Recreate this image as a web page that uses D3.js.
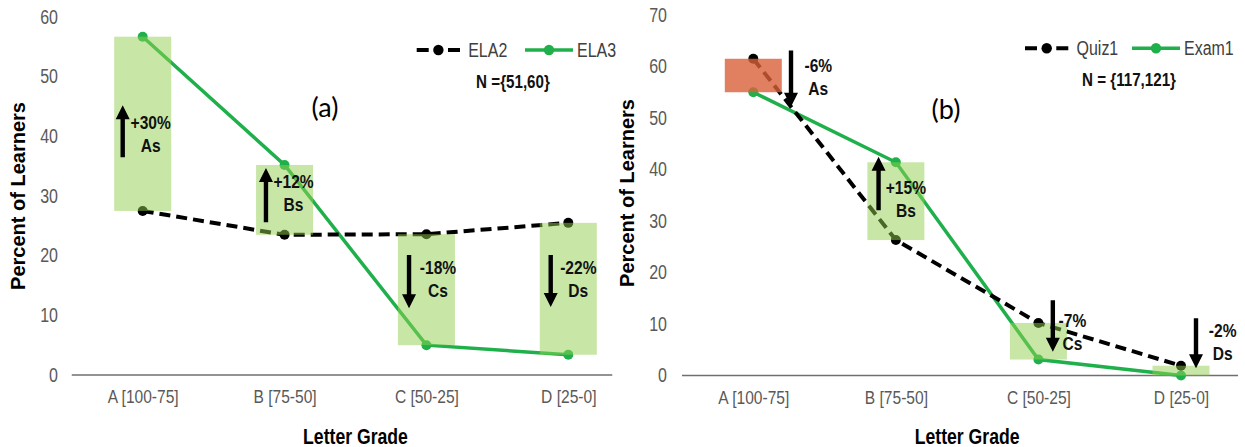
<!DOCTYPE html>
<html><head><meta charset="utf-8">
<script src="https://cdn.jsdelivr.net/npm/d3@7"></script>
<style>
html,body{margin:0;padding:0;background:#fff;}
svg{display:block;}
</style></head>
<body>
<svg id="chart" width="1245" height="447"></svg>
<script>
// ---------- data ----------
const categories = ["A [100-75]", "B [75-50]", "C [50-25]", "D [25-0]"];

// panel (a)
const seriesA1Name = "ELA2";
const seriesA1 = [27.5, 23.5, 23.6, 25.5];
const seriesA2Name = "ELA3";
const seriesA2 = [56.7, 35.2, 5.0, 3.4];
const yTicksA = [0, 10, 20, 30, 40, 50, 60];
const changesA = ["+30%", "+12%", "-18%", "-22%"];
const gradesA = ["As", "Bs", "Cs", "Ds"];
const nTextA = "N ={51,60}";
const panelLabelA = "(a)";

// panel (b)
const seriesB1Name = "Quiz1";
const seriesB1 = [61.5, 26.3, 10.2, 1.9];
const seriesB2Name = "Exam1";
const seriesB2 = [55.0, 41.4, 3.1, 0.0];
const yTicksB = [0, 10, 20, 30, 40, 50, 60, 70];
const changesB = ["-6%", "+15%", "-7%", "-2%"];
const gradesB = ["As", "Bs", "Cs", "Ds"];
const nTextB = "N = {117,121}";
const panelLabelB = "(b)";

// ---------- styles ----------
const FONT = "'Liberation Sans',Arial,sans-serif";
const NARROW_SCALE = 0.82;
const GREEN = "#1fb04b";
const BAND_UP = "#92d050";
const BAND_DOWN_RED = "#d9603a";

const svg = d3.select("#chart");

function narrowText(g, x, y, str, o) {
  const t = g.append("g").attr("transform", `translate(${x},${y}) scale(${NARROW_SCALE},1)`)
    .append("text").attr("x", 0).attr("y", 0)
    .attr("text-anchor", o.anchor || "middle").attr("dominant-baseline", "central")
    .attr("font-family", FONT).attr("font-size", o.size || 19)
    .attr("font-weight", o.weight || "normal").attr("fill", o.fill || "#000")
    .text(str);
  return t;
}

function arrowPath(x, y0, y1) {
  const dir = y1 < y0 ? -1 : 1;
  const hl = 14, hw = 7, sw = 2.2;
  const yb = y1 - dir * hl;
  return `M${x - sw},${y0} L${x + sw},${y0} L${x + sw},${yb} L${x + hw},${yb} L${x},${y1} L${x - hw},${yb} L${x - sw},${yb} Z`;
}

function panel(cfg) {
  const g = svg.append("g");
  const x = d3.scalePoint().domain(categories).range(cfg.xRange);
  const y = d3.scaleLinear().domain([0, cfg.yTicks[cfg.yTicks.length - 1]]).range(cfg.yRange);
  const step = x.step();

  // y axis labels
  const ya = d3.axisLeft(y).tickValues(cfg.yTicks).tickSize(0).tickPadding(0);
  const yg = g.append("g").attr("transform", `translate(${cfg.yLabelX},0)`).call(ya);
  yg.select(".domain").remove();
  yg.selectAll("text").attr("font-family", FONT).attr("font-size", 19.5).attr("fill", "#595959")
    .attr("transform", `scale(${NARROW_SCALE},1)`);

  // x axis
  const xa = d3.axisBottom(x).tickSize(0).tickPadding(15);
  const xg = g.append("g").attr("transform", `translate(0,${y(0)})`).call(xa);
  xg.select(".domain").remove();
  xg.selectAll("text").attr("font-family", FONT).attr("font-size", 19).attr("fill", "#595959")
    .attr("transform", `scale(${NARROW_SCALE},1)`);
  g.append("line")
    .attr("x1", x(categories[0]) - step / 2).attr("x2", x(categories[3]) + step * cfg.axisRightFrac)
    .attr("y1", y(0)).attr("y2", y(0))
    .attr("stroke", "#6f6f6f").attr("stroke-width", 1.6);

  // axis titles
  g.append("text").attr("transform", `translate(${cfg.yTitleX},${cfg.yTitleY}) rotate(-90)`)
    .attr("text-anchor", "middle").attr("dominant-baseline", "central")
    .attr("font-family", FONT).attr("font-weight", "bold").attr("font-size", 20).attr("fill", "#000")
    .text("Percent of Learners");
  narrowText(g, (x(categories[1]) + x(categories[2])) / 2, 436, "Letter Grade", {size: 21.5, weight: "bold"});

  // lines
  const line = (vals) => d3.line().x((d, i) => x(categories[i])).y(d => y(d))(vals);
  g.append("path").attr("d", line(cfg.s2)).attr("fill", "none").attr("stroke", GREEN).attr("stroke-width", 3.5);
  g.append("path").attr("d", line(cfg.s1)).attr("fill", "none").attr("stroke", "#000")
    .attr("stroke-width", 4).attr("stroke-dasharray", "11,6");
  g.selectAll(".m2").data(cfg.s2).enter().append("circle")
    .attr("cx", (d, i) => x(categories[i])).attr("cy", d => y(d)).attr("r", 5).attr("fill", GREEN);
  g.selectAll(".m1").data(cfg.s1).enter().append("circle")
    .attr("cx", (d, i) => x(categories[i])).attr("cy", d => y(d)).attr("r", 5).attr("fill", "#000");

  // change bands
  const bw = 57;
  categories.forEach((c, i) => {
    const a = cfg.s1[i], b = cfg.s2[i];
    const lo = Math.min(a, b), hi = Math.max(a, b);
    const red = cfg.redBand === i;
    g.append("rect").attr("x", x(c) - bw / 2).attr("width", bw)
      .attr("y", y(hi)).attr("height", y(lo) - y(hi))
      .attr("fill", red ? BAND_DOWN_RED : BAND_UP).attr("opacity", red ? 0.8 : 0.5);
  });

  // arrows + labels
  cfg.ann.forEach((an, i) => {
    const cx = x(categories[i]);
    g.append("path").attr("d", arrowPath(cx + an.ax, y(an.from), y(an.to))).attr("fill", "#000");
    narrowText(g, cx + an.tx, y(an.ty), cfg.changes[i], {size: 19, weight: "bold", fill: "#111"});
    narrowText(g, cx + an.tx, y(an.ty) + 23, cfg.grades[i], {size: 19, weight: "bold", fill: "#111"});
  });

  // legend
  const L = cfg.legend;
  g.append("line").attr("x1", L.x).attr("x2", L.x + 43.3).attr("y1", L.y).attr("y2", L.y)
    .attr("stroke", "#000").attr("stroke-width", 4).attr("stroke-dasharray", "12,19.3");
  g.append("circle").attr("cx", L.x + 21.7).attr("cy", L.y).attr("r", 5.2).attr("fill", "#000");
  narrowText(g, L.x + 51.5, L.y, cfg.n1, {size: 19.5, anchor: "start", fill: "#404040"});
  g.append("line").attr("x1", L.x2).attr("x2", L.x2 + 48).attr("y1", L.y).attr("y2", L.y)
    .attr("stroke", GREEN).attr("stroke-width", 3.5);
  g.append("circle").attr("cx", L.x2 + 24).attr("cy", L.y).attr("r", 5.2).attr("fill", GREEN);
  narrowText(g, L.x2 + 52, L.y, cfg.n2, {size: 19.5, anchor: "start", fill: "#404040"});
  narrowText(g, L.nx, L.y + 32, cfg.nText, {size: 18.5, weight: "bold", fill: "#111"});

  // panel label
  g.append("text").attr("x", cfg.pl[0]).attr("y", cfg.pl[1]).attr("text-anchor", "middle").attr("dominant-baseline", "central")
    .attr("font-family", "Lato,'Open Sans',sans-serif").attr("font-size", 27).attr("fill", "#000").text(cfg.panelLabel);
}

panel({
  xRange: [142.7, 568.3], yRange: [375, 17], yTicks: yTicksA, yLabelX: 58,
  axisRightFrac: 0.31, yTitleX: 18, yTitleY: 196,
  s1: seriesA1, s2: seriesA2, changes: changesA, grades: gradesA, redBand: -1,
  ann: [
    {ax: -20, from: 36.5, to: 45.2, tx: 8, ty: 42.4},
    {ax: -18.6, from: 25.6, to: 34.7, tx: 9, ty: 32.4},
    {ax: -17.4, from: 20.1, to: 11.2, tx: 11.6, ty: 18.1},
    {ax: -17.6, from: 20.1, to: 11.4, tx: 10, ty: 18.1}
  ],
  legend: {x: 416.7, x2: 525, y: 50, nx: 513},
  n1: seriesA1Name, n2: seriesA2Name, nText: nTextA,
  pl: [325, 106], panelLabel: panelLabelA
});

panel({
  xRange: [753.3, 1181], yRange: [375.5, 15], yTicks: yTicksB, yLabelX: 667,
  axisRightFrac: 0.4, yTitleX: 627, yTitleY: 193,
  s1: seriesB1, s2: seriesB2, changes: changesB, grades: gradesB, redBand: 0,
  ann: [
    {ax: 37.7, from: 63.1, to: 52.2, tx: 65, ty: 60.2},
    {ax: -17.3, from: 32.1, to: 42.5, tx: 10, ty: 36.6},
    {ax: 14.4, from: 14.6, to: 4.6, tx: 34, ty: 10.7},
    {ax: 15, from: 11.1, to: 1.4, tx: 41.7, ty: 8.8}
  ],
  legend: {x: 1025, x2: 1132, y: 48.3, nx: 1129},
  n1: seriesB1Name, n2: seriesB2Name, nText: nTextB,
  pl: [946, 108], panelLabel: panelLabelB
});
</script>
</body></html>
